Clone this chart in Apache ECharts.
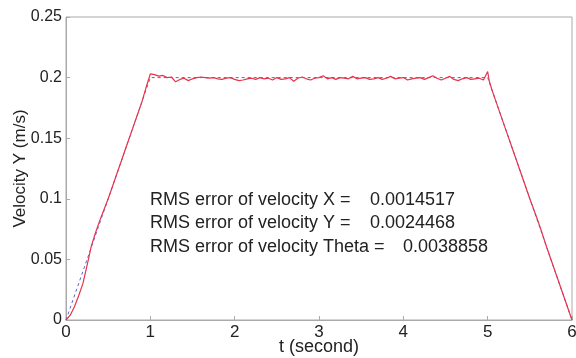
<!DOCTYPE html>
<html><head><meta charset="utf-8">
<script src="https://cdn.jsdelivr.net/npm/echarts@6/dist/echarts.min.js"></script>
<style>html,body{margin:0;padding:0;background:#fff}#c{width:576px;height:358px}</style>
</head><body><div id="c"></div>
<script>
// Reference (commanded) velocity profile
var refT = [0, 1, 5, 6];
var refV = [0, 0.2, 0.2, 0];
var measT = [0,0.05,0.1,0.15,0.2,0.25,0.3,0.35,0.4,0.45,0.5,0.55,0.6,0.65,0.7,0.75,0.8,0.85,0.9,0.95,
1.0,1.05,1.1,1.15,1.2,1.25,1.3,1.35,1.4,1.45,1.5,1.55,1.6,1.65,1.7,1.75,1.8,1.85,1.9,1.95,
2.0,2.05,2.1,2.15,2.2,2.25,2.3,2.35,2.4,2.45,2.5,2.55,2.6,2.65,2.7,2.75,2.8,2.85,2.9,2.95,
3.0,3.05,3.1,3.15,3.2,3.25,3.3,3.35,3.4,3.45,3.5,3.55,3.6,3.65,3.7,3.75,3.8,3.85,3.9,3.95,
4.0,4.05,4.1,4.15,4.2,4.25,4.3,4.35,4.4,4.45,4.5,4.55,4.6,4.65,4.7,4.75,4.8,4.85,4.9,4.95,
5.0,5.02,5.05,5.1,5.2,5.3,5.4,5.5,5.6,5.63,5.7,5.8,5.9,6.0];
var measV = [0,0.004,0.011,0.02,0.03,0.045,0.061,0.072,0.082,0.091,0.1,0.11,0.12,0.13,0.14,0.15,0.16,0.17,0.18,0.192,
0.203,0.2025,0.2012,0.2018,0.2,0.2005,0.1965,0.1985,0.1995,0.1975,0.199,0.2,0.2005,0.2,0.1995,0.2,0.199,0.1985,0.1995,0.2,
0.1985,0.1975,0.198,0.199,0.1995,0.1985,0.2,0.199,0.1995,0.198,0.2,0.1985,0.199,0.2,0.197,0.1995,0.2005,0.199,0.198,0.1995,
0.2,0.2015,0.199,0.2,0.1985,0.2,0.1995,0.199,0.201,0.199,0.1995,0.2,0.1985,0.199,0.2,0.1985,0.1995,0.201,0.199,0.1995,
0.2,0.198,0.199,0.1995,0.2,0.1985,0.2,0.2015,0.1995,0.198,0.1995,0.201,0.1985,0.1975,0.199,0.2,0.1985,0.199,0.1995,0.198,
0.205,0.197,0.19,0.18,0.16,0.14,0.12,0.1,0.081,0.075,0.06,0.04,0.02,0];
var xTicks = [0,1,2,3,4,5,6];
var yTicks = [0,0.05,0.1,0.15,0.2,0.25];
var rmsLines = [
  ["RMS error of velocity X =", "0.0014517"],
  ["RMS error of velocity Y =", "0.0024468"],
  ["RMS error of velocity Theta =", "0.0038858"]
];

function pairs(t, v){ return t.map(function(x,i){ return [x, v[i]]; }); }
var FONT = 'Liberation Sans, Arial, sans-serif';
var chart = echarts.init(document.getElementById('c'), null, {renderer:'canvas'});
var graphics = [];
var rowY = [200, 223, 247];
var valX = [370, 370, 403];
rmsLines.forEach(function(r, i){
  graphics.push({type:'text', x:150, y:rowY[i], style:{text:r[0], font:'18px '+FONT, fill:'#222', verticalAlign:'middle'}});
  graphics.push({type:'text', x:valX[i], y:rowY[i], style:{text:r[1], font:'18px '+FONT, fill:'#222', verticalAlign:'middle'}});
});
chart.setOption({
  animation:false,
  backgroundColor:'#fff',
  grid:{left:66, right:4, top:17, bottom:38, show:true, borderColor:'#aaa', borderWidth:1,
        containLabel:false, outerBoundsMode:'none'},
  xAxis:{type:'value', min:0, max:6, interval:1,
    name:'t (second)', nameLocation:'middle', nameGap:18, nameMoveOverlap:false,
    nameTextStyle:{fontFamily:FONT, fontSize:18, color:'#222', verticalAlign:'top', lineHeight:18},
    axisLine:{show:true, lineStyle:{color:'#aaa'}},
    axisTick:{inside:true, length:4, lineStyle:{color:'#aaa'}},
    axisLabel:{fontFamily:FONT, fontSize:17, color:'#222', margin:4, lineHeight:17},
    splitLine:{show:false}},
  yAxis:{type:'value', min:0, max:0.25, interval:0.05,
    name:'Velocity Y (m/s)', nameLocation:'middle', nameGap:37, nameMoveOverlap:false,
    nameTextStyle:{fontFamily:FONT, fontSize:17, color:'#222'},
    axisLine:{show:true, lineStyle:{color:'#aaa'}},
    axisTick:{inside:true, length:4, lineStyle:{color:'#aaa'}},
    axisLabel:{fontFamily:FONT, fontSize:16, color:'#222', margin:4,
      formatter:function(v){ return String(+v.toFixed(2)); }},
    splitLine:{show:false}},
  graphic: graphics,
  series:[
    {type:'line', data:pairs(refT, refV), showSymbol:false, symbol:'none',
     lineStyle:{color:'#5566cc', width:1, type:[3,3]}, z:2},
    {type:'line', data:pairs(measT, measV), showSymbol:false, symbol:'none',
     lineStyle:{color:'#e8334a', width:1.2}, z:3}
  ]
});
</script></body></html>
